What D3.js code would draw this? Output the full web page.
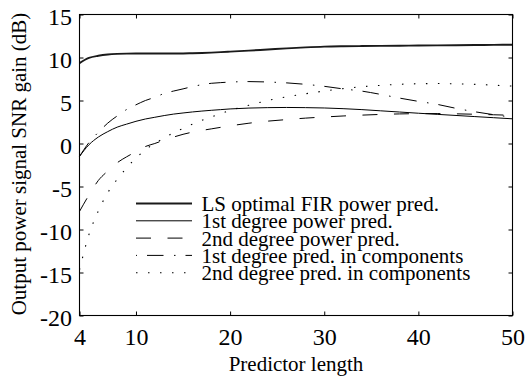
<!DOCTYPE html>
<html>
<head>
<meta charset="utf-8">
<script src="https://cdn.jsdelivr.net/npm/d3@7"></script>
<style>
    body { margin: 0; background: #fff; }
    svg { display: block; font-family: "Liberation Serif", "Times New Roman", serif; }
    svg text { font-family: "Liberation Serif", "Times New Roman", serif; }
</style>
</head>
<body>
<div id="chart"></div>
<script>
// predictor lengths the curves are read at
const lengths = [4, 5, 6, 7, 8, 9, 10, 11, 12, 13, 14, 15, 16, 17, 18, 19, 20,
    22, 24, 26, 28, 30, 32, 34, 36, 38, 40, 42, 44, 46, 48, 50];

const lsOptimal = [9.35, 9.95, 10.2, 10.35, 10.42, 10.45, 10.46, 10.46, 10.46, 10.46, 10.46, 10.47, 10.5, 10.53, 10.57, 10.62, 10.68,
    10.8, 10.93, 11.06, 11.18, 11.27, 11.31, 11.33, 11.35, 11.37, 11.39, 11.41, 11.43, 11.45, 11.47, 11.48];
const firstPower = [-1.5, -0.15, 0.75, 1.38, 1.9, 2.25, 2.58, 2.85, 3.05, 3.25, 3.42, 3.55, 3.67, 3.77, 3.86, 3.94, 4.02,
    4.12, 4.17, 4.19, 4.17, 4.13, 4.05, 3.94, 3.8, 3.66, 3.52, 3.39, 3.26, 3.13, 3.0, 2.87];
const secondPower = [-7.9, -6.0, -4.3, -3.2, -2.24, -1.55, -0.95, -0.35, 0.0, 0.4, 0.75, 1.07, 1.32, 1.52, 1.7, 1.88, 2.05,
    2.36, 2.6, 2.78, 2.95, 3.08, 3.2, 3.3, 3.38, 3.44, 3.47, 3.48, 3.45, 3.4, 3.34, 3.28];
const firstComp = [-1.5, 0.1, 1.3, 2.37, 3.2, 3.95, 4.5, 5.0, 5.37, 5.82, 6.1, 6.35, 6.62, 6.84, 7.0, 7.08, 7.14,
    7.2, 7.15, 7.05, 6.88, 6.65, 6.35, 6.09, 5.71, 5.28, 4.9, 4.55, 4.09, 3.69, 3.35, 3.05];
const secondComp = [-14.7, -10.6, -7.85, -5.72, -4.17, -2.85, -1.68, -0.75, 0.05, 0.6, 1.3, 1.75, 2.25, 2.7, 3.07, 3.48, 3.85,
    4.45, 5.0, 5.43, 5.78, 6.1, 6.38, 6.6, 6.76, 6.88, 6.95, 6.97, 6.94, 6.88, 6.78, 6.68];

const seriesNames = ['LS optimal FIR power pred.', '1st degree power pred.', '2nd degree power pred.',
    '1st degree pred. in components', '2nd degree pred. in components'];

const xTicks = [4, 10, 20, 30, 40, 50];
const xTickLabels = ['4', '10', '20', '30', '40', '50'];
const yTicks = [-20, -15, -10, -5, 0, 5, 10, 15];
const yTickLabels = ['-20', '-15', '-10', '-5', '0', '5', '10', '15'];

const xTitle = 'Predictor length';
const yTitle = 'Output power signal SNR gain (dB)';

(function() {
    let W = 528, H = 376;
    let left = 79.5, right = 512.5, top = 14.5, bottom = 315.5;
    let serif = '"Liberation Serif", "Times New Roman", serif';

    let svg = d3.select('#chart')
        .append('svg')
        .attr('width', W)
        .attr('height', H);

    let x = d3.scaleLinear().domain([4, 50]).range([left, right]);
    let y = d3.scaleLinear().domain([-20, 15]).range([bottom, top]);

    // line styles, legend gets its own dash offset so it starts like the reference
    let styles = [
        { color: '#1a1a1a', width: 1.9, dash: null, offset: 0 },
        { color: '#000', width: 1, dash: null, offset: 0 },
        { color: '#000', width: 1, dash: '15,16.5', offset: 0 },
        { color: '#000', width: 1, dash: '16.5,10.5,1.5,10', offset: 27.5 },
        { color: '#000', width: 1.1, dash: '1.5,10.5', offset: 0 }
    ];
    let data = [lsOptimal, firstPower, secondPower, firstComp, secondComp];

    let line = d3.line()
        .x(d => x(d[0]))
        .y(d => y(d[1]))
        .curve(d3.curveMonotoneX);

    let plot = svg.append('g');
    data.forEach((vals, i) => {
        let s = styles[i];
        plot.append('path')
            .datum(lengths.map((l, j) => [l, vals[j]]))
            .attr('d', line)
            .attr('fill', 'none')
            .attr('stroke', s.color)
            .attr('stroke-width', s.width)
            .attr('stroke-dasharray', s.dash);
    });

    // axes with inward ticks on all four sides
    let fmtX = d => xTickLabels[xTicks.indexOf(d)];
    let fmtY = d => yTickLabels[yTicks.indexOf(d)];

    svg.append('g')
        .attr('transform', `translate(0,${bottom})`)
        .call(d3.axisBottom(x).tickValues(xTicks).tickFormat(fmtX).tickSizeInner(-4).tickSizeOuter(0).tickPadding(12));
    svg.append('g')
        .attr('transform', `translate(0,${top})`)
        .call(d3.axisTop(x).tickValues(xTicks).tickFormat('').tickSizeInner(-4).tickSizeOuter(0));
    let gy = svg.append('g')
        .attr('transform', `translate(${left},0)`)
        .call(d3.axisLeft(y).tickValues(yTicks).tickFormat(fmtY).tickSizeInner(-4).tickSizeOuter(0).tickPadding(7.5));
    svg.append('g')
        .attr('transform', `translate(${right},0)`)
        .call(d3.axisRight(y).tickValues(yTicks).tickFormat('').tickSizeInner(-4).tickSizeOuter(0));

    svg.selectAll('.domain').remove();
    svg.selectAll('g[font-family]').attr('font-family', serif).attr('font-size', 24);
    svg.selectAll('.tick line').attr('stroke', '#000');
    svg.selectAll('.tick text')
        .attr('fill', '#000')
        .style('font-family', serif)
        .style('font-size', '24px');
    gy.selectAll('.tick text').attr('dy', '0.42em');

    svg.append('rect')
        .attr('x', left)
        .attr('y', top)
        .attr('width', right - left)
        .attr('height', bottom - top)
        .attr('fill', 'none')
        .attr('stroke', '#000')
        .attr('stroke-width', 1.1);

    // axis titles
    svg.append('text')
        .attr('x', (left + right) / 2)
        .attr('y', 371)
        .attr('text-anchor', 'middle')
        .style('font-size', '21px')
        .text(xTitle);
    svg.append('text')
        .attr('transform', 'translate(26,164) rotate(-90)')
        .attr('text-anchor', 'middle')
        .style('font-size', '21px')
        .text(yTitle);

    // legend, no frame, rows packed tighter than the font as in the original
    let legend = svg.append('g');
    seriesNames.forEach((name, i) => {
        let s = styles[i];
        let ly = 203.5 + i * 17.3;
        legend.append('line')
            .attr('x1', 136)
            .attr('x2', 192)
            .attr('y1', ly)
            .attr('y2', ly)
            .attr('stroke', s.color)
            .attr('stroke-width', s.width)
            .attr('stroke-dasharray', s.dash)
            .attr('stroke-dashoffset', s.offset);
        legend.append('text')
            .attr('x', 201.5)
            .attr('y', ly + 7.5)
            .style('font-size', '21px')
            .text(name);
    });
})();
</script>
</body>
</html>
